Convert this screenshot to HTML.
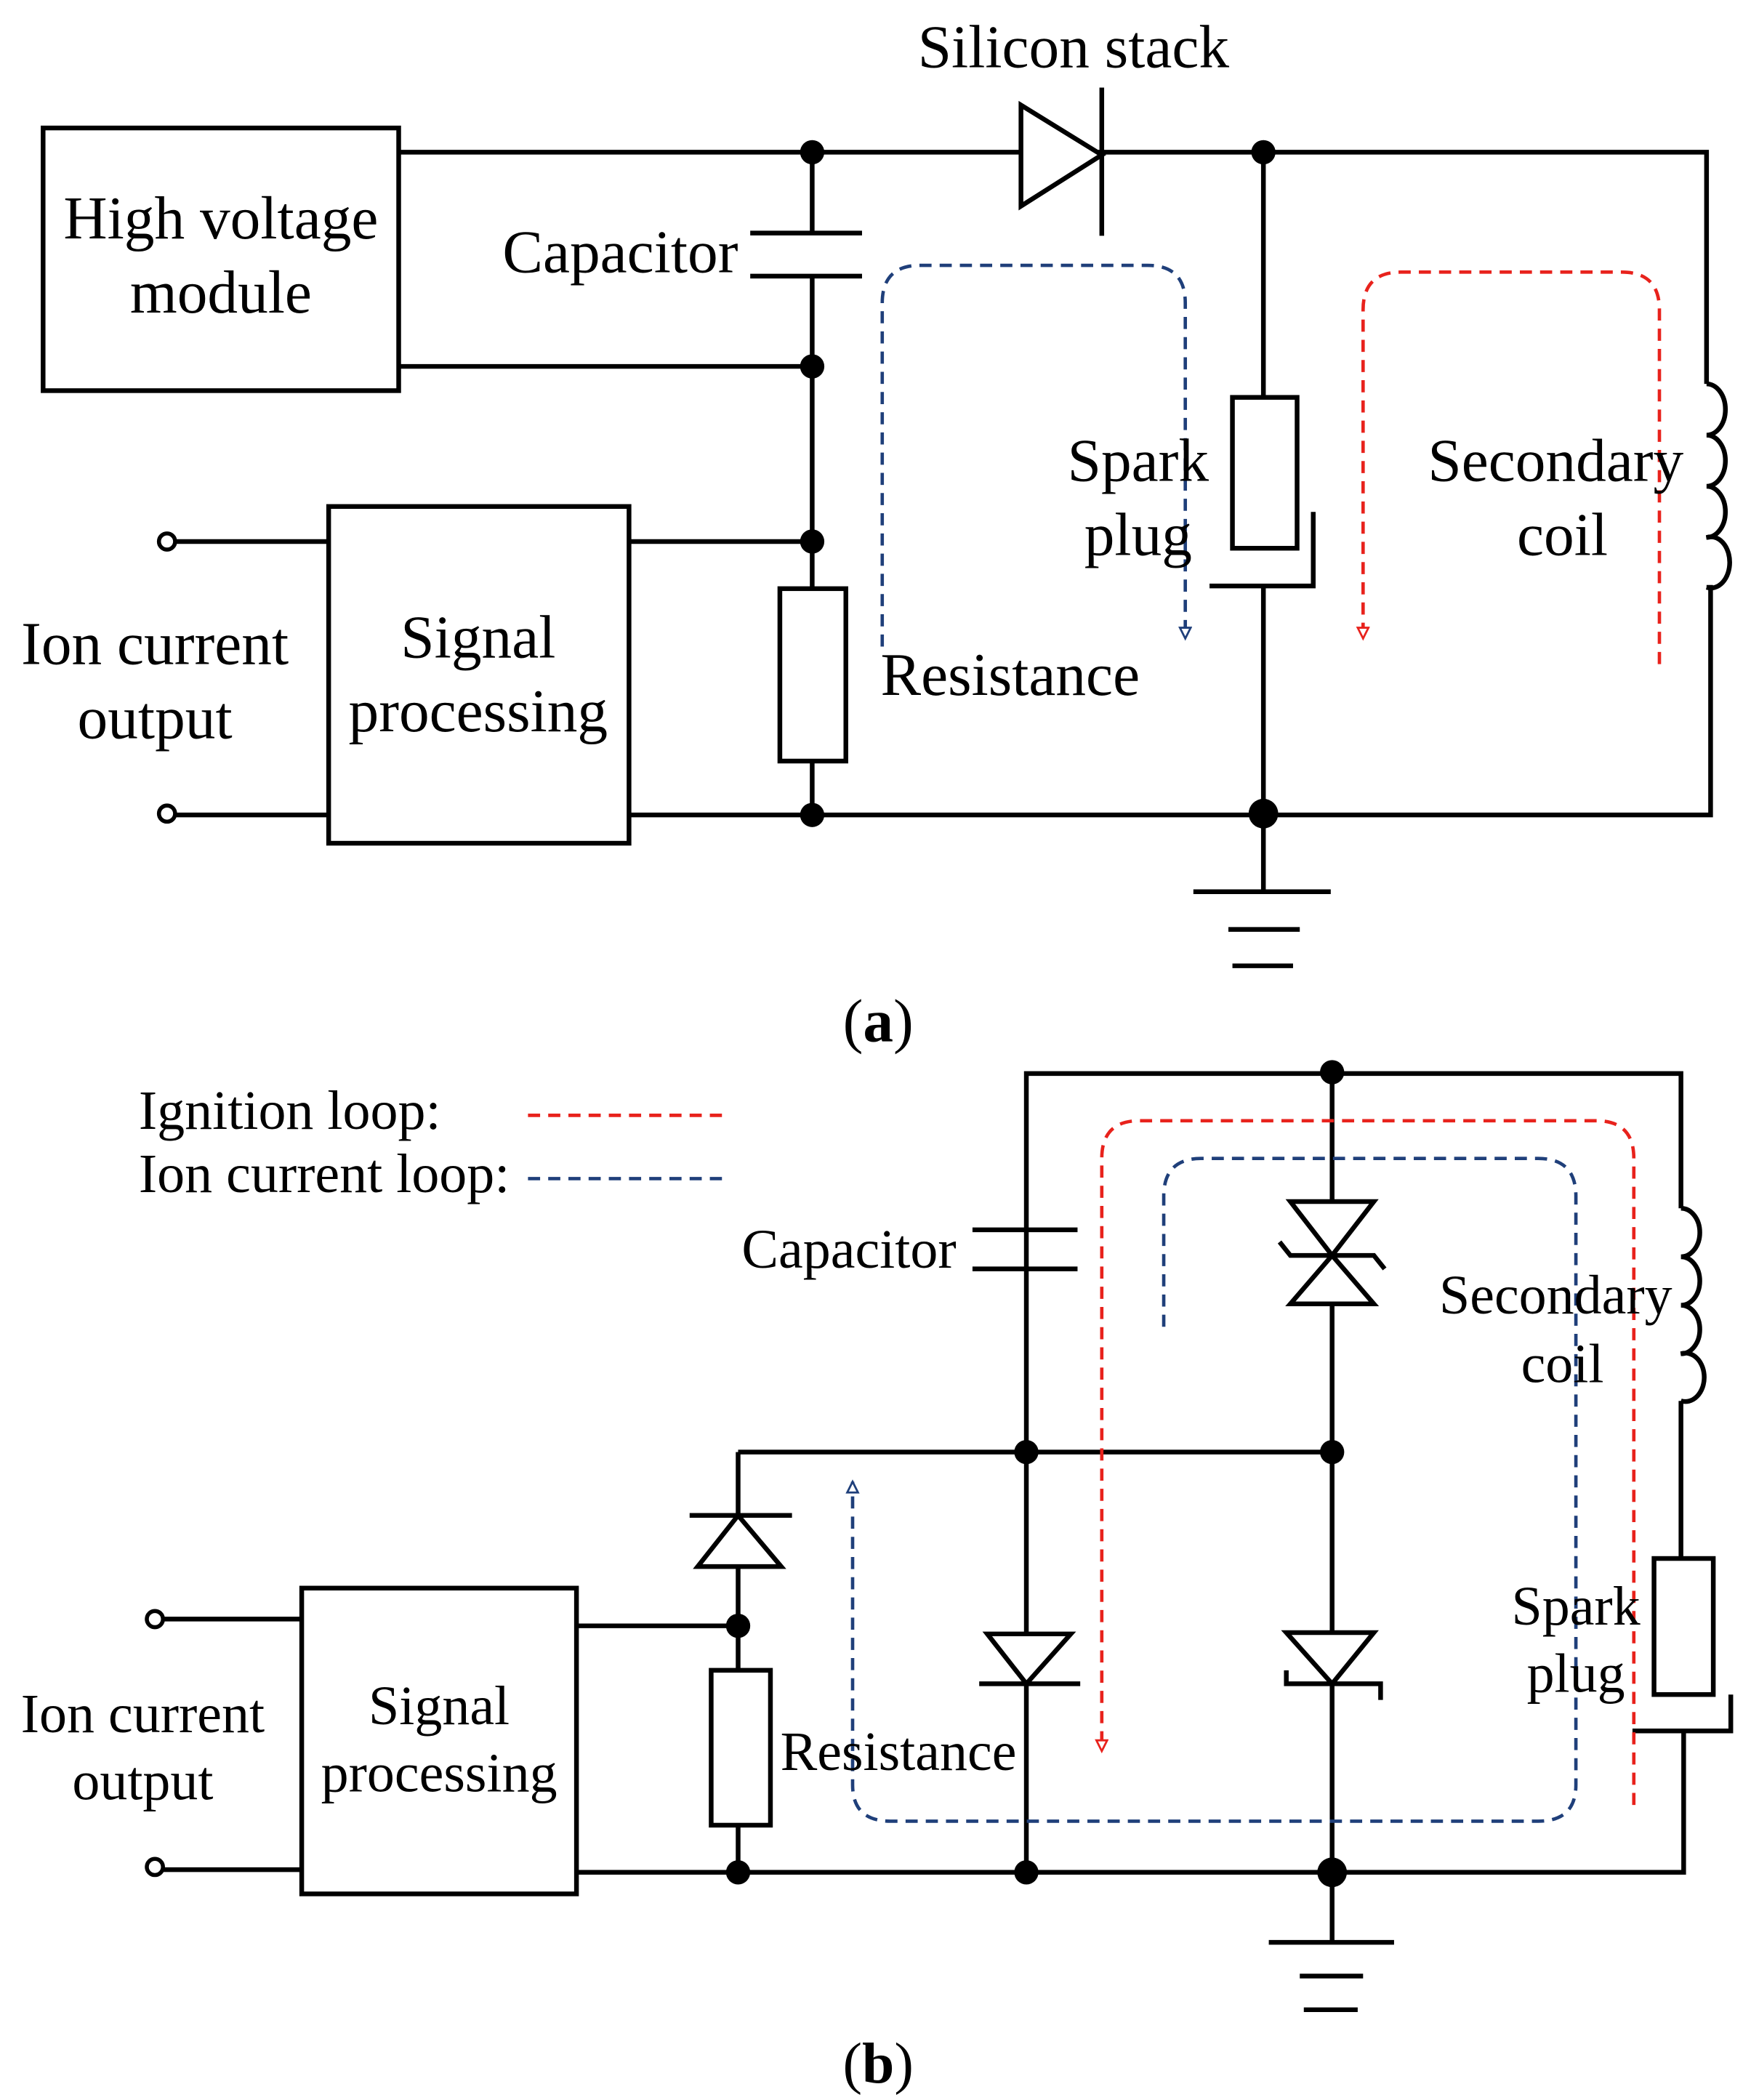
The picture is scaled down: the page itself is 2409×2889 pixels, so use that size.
<!DOCTYPE html>
<html><head><meta charset="utf-8"><style>
html,body{margin:0;padding:0;background:#fff;}
svg{display:block;}
text{font-family:"Liberation Serif",serif;fill:#000;}
</style></head><body>
<svg width="2409" height="2889" viewBox="0 0 1300 1559" xmlns="http://www.w3.org/2000/svg">
<defs>
<marker id="ab" markerWidth="12" markerHeight="12" refX="9" refY="5" orient="auto" markerUnits="userSpaceOnUse"><path d="M1,1 L9,5 L1,9 z" fill="#fff" stroke="#1f3f7a" stroke-width="1.5"/></marker>
<marker id="ar" markerWidth="12" markerHeight="12" refX="9" refY="5" orient="auto" markerUnits="userSpaceOnUse"><path d="M1,1 L9,5 L1,9 z" fill="#fff" stroke="#e8221c" stroke-width="1.5"/></marker>
</defs>
<g fill="none" stroke="#000" stroke-width="3.5">
<!-- (a) -->
<rect x="32" y="95" width="264" height="195"/>
<polyline points="296,113 1267,113 1267,285"/>
<path d="M1267,285 a14,19 0 1 1 0,38 a14,19 0 1 1 0,38 a14,19 0 1 1 0,38 a14,19 0 1 1 0,37"/>
<polyline points="1267,436 1270,436 1270,605 467,605"/>
<polygon points="758,78 758,153 818,115" fill="#fff"/>
<line x1="818" y1="65" x2="818" y2="175"/>
<line x1="603" y1="113" x2="603" y2="173"/>
<line x1="557" y1="173" x2="640" y2="173"/>
<line x1="557" y1="205" x2="640" y2="205"/>
<line x1="603" y1="205" x2="603" y2="437"/>
<line x1="296" y1="272" x2="603" y2="272"/>
<line x1="467" y1="402" x2="603" y2="402"/>
<rect x="579" y="437" width="49" height="128"/>
<line x1="603" y1="565" x2="603" y2="605"/>
<line x1="938" y1="113" x2="938" y2="295"/>
<rect x="915" y="295" width="48" height="112"/>
<polyline points="975,380 975,435 898,435"/>
<line x1="938" y1="435" x2="938" y2="662"/>
<line x1="886" y1="662" x2="988" y2="662"/>
<line x1="912" y1="690" x2="965" y2="690"/>
<line x1="915" y1="717" x2="960" y2="717"/>
<rect x="244" y="376" width="223" height="250"/>
<line x1="130" y1="402" x2="244" y2="402"/>
<line x1="130" y1="605" x2="244" y2="605"/>
<circle cx="124" cy="402" r="6" stroke-width="3"/>
<circle cx="124" cy="604" r="6" stroke-width="3"/>
<!-- (b) -->
<polyline points="762,1390 762,797 1248,797 1248,897"/>
<path d="M1248,897 a14,18 0 1 1 0,36 a14,18 0 1 1 0,36 a14,18 0 1 1 0,36 a14,18 0 1 1 0,35"/>
<line x1="1248" y1="1040" x2="1248" y2="1157"/>
<rect x="1228" y="1157" width="44" height="101"/>
<polyline points="1285,1258 1285,1285 1212,1285"/>
<polyline points="1250,1285 1250,1390 428,1390"/>
<line x1="722" y1="913" x2="800" y2="913"/>
<line x1="722" y1="942" x2="800" y2="942"/>
<line x1="989" y1="797" x2="989" y2="1390"/>
<polygon points="958,892 1020,892 989,932" fill="#fff"/>
<polygon points="958,968 1020,968 989,932" fill="#fff"/>
<polyline points="950,922 958,932 1020,932 1028,942"/>
<line x1="548" y1="1078" x2="989" y2="1078"/>
<line x1="548" y1="1078" x2="548" y2="1240"/>
<polygon points="518,1163 580,1163 548,1125" fill="#fff"/>
<line x1="512" y1="1125" x2="588" y2="1125"/>
<line x1="428" y1="1207" x2="548" y2="1207"/>
<rect x="528" y="1240" width="44" height="115"/>
<line x1="548" y1="1355" x2="548" y2="1390"/>
<polygon points="733,1213 795,1213 762,1250" fill="#fff"/>
<line x1="727" y1="1250" x2="802" y2="1250"/>
<polygon points="955,1212 1020,1212 989,1250" fill="#fff"/>
<polyline points="955,1240 955,1250 1025,1250 1025,1262"/>
<line x1="989" y1="1390" x2="989" y2="1442"/>
<line x1="942" y1="1442" x2="1035" y2="1442"/>
<line x1="965" y1="1467" x2="1012" y2="1467"/>
<line x1="968" y1="1492" x2="1008" y2="1492"/>
<rect x="224" y="1179" width="204" height="227"/>
<line x1="121" y1="1202" x2="224" y2="1202"/>
<line x1="121" y1="1388" x2="224" y2="1388"/>
<circle cx="115" cy="1202" r="6" stroke-width="3"/>
<circle cx="115" cy="1386" r="6" stroke-width="3"/>
</g>
<g fill="#000">
<circle cx="603" cy="113" r="9"/><circle cx="938" cy="113" r="9"/>
<circle cx="603" cy="272" r="9"/><circle cx="603" cy="402" r="9"/>
<circle cx="603" cy="605" r="9"/><circle cx="938" cy="604" r="11"/>
<circle cx="989" cy="796" r="9"/><circle cx="762" cy="1078" r="9"/>
<circle cx="989" cy="1078" r="9"/><circle cx="548" cy="1207" r="9"/>
<circle cx="548" cy="1390" r="9"/><circle cx="762" cy="1390" r="9"/>
<circle cx="989" cy="1390" r="11"/>
</g>
<g fill="none" stroke-width="2.5" stroke-dasharray="9,6">
<path d="M655,480 V225 Q655,197 683,197 H852 Q880,197 880,225 V474" stroke="#1f3f7a" marker-end="url(#ab)"/>
<path d="M1232,493 V230 Q1232,202 1204,202 H1040 Q1012,202 1012,230 V474" stroke="#e8221c" marker-end="url(#ar)"/>
<line x1="392" y1="828" x2="540" y2="828" stroke="#e8221c"/>
<line x1="392" y1="875" x2="540" y2="875" stroke="#1f3f7a"/>
<path d="M1213,1340 V860 Q1213,832 1185,832 H846 Q818,832 818,860 V1300" stroke="#e8221c" marker-end="url(#ar)"/>
<path d="M864,985 V888 Q864,860 892,860 H1142 Q1170,860 1170,888 V1325 Q1170,1352 1142,1352 H661 Q633,1352 633,1325 V1100" stroke="#1f3f7a" marker-end="url(#ab)"/>
</g>
<g font-size="45" text-anchor="middle">
<text x="797" y="50">Silicon stack</text>
<text x="164" y="177">High voltage</text>
<text x="164" y="232">module</text>
<text x="548" y="202" text-anchor="end">Capacitor</text>
<text x="845" y="357">Spark</text>
<text x="845" y="412">plug</text>
<text x="1155" y="357">Secondary</text>
<text x="1160" y="412">coil</text>
<text x="750" y="516">Resistance</text>
<text x="355" y="488">Signal</text>
<text x="355" y="543">processing</text>
<text x="115" y="493">Ion current</text>
<text x="115" y="548">output</text>
<text x="652" y="773">(<tspan font-weight="bold">a</tspan>)</text>
</g>
<g font-size="41" text-anchor="middle">
<text x="103" y="838" text-anchor="start">Ignition loop:</text>
<text x="103" y="885" text-anchor="start">Ion current loop:</text>
<text x="710" y="941" text-anchor="end">Capacitor</text>
<text x="1155" y="975">Secondary</text>
<text x="1160" y="1026">coil</text>
<text x="1170" y="1206">Spark</text>
<text x="1170" y="1256">plug</text>
<text x="667" y="1314">Resistance</text>
<text x="326" y="1280">Signal</text>
<text x="326" y="1330">processing</text>
<text x="106" y="1286">Ion current</text>
<text x="106" y="1336">output</text>
<text x="652" y="1546" font-size="43">(<tspan font-weight="bold">b</tspan>)</text>
</g>
</svg>
</body></html>
